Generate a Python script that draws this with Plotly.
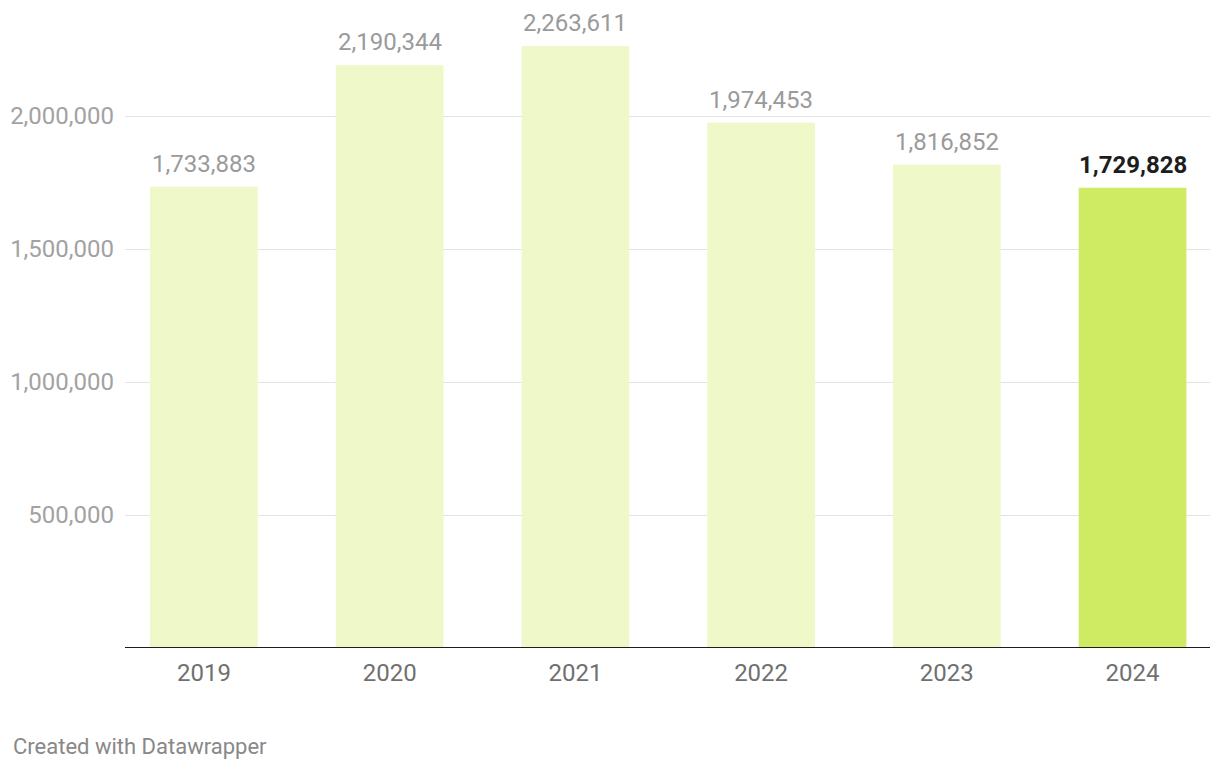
import plotly.graph_objects as go

years = ["2019", "2020", "2021", "2022", "2023", "2024"]
values = [1733883, 2190344, 2263611, 1974453, 1816852, 1729828]
highlight = "2024"
y_ticks = [500000, 1000000, 1500000, 2000000]
y_tick_text = ["500,000", "1,000,000", "1,500,000", "2,000,000"]

light = "#eff8c8"
bright = "#cfeb63"
colors = [bright if y == highlight else light for y in years]

fig = go.Figure()
fig.add_trace(go.Bar(x=years, y=values, marker=dict(color=colors, line=dict(width=0)),
                     hoverinfo="skip"))

for i, (yr, v) in enumerate(zip(years, values)):
    hl = yr == highlight
    fig.add_annotation(
        x=i, y=v, xref="x", yref="y", text=(f"<b>{v:,}</b>" if hl else f"{v:,}"),
        showarrow=False, yanchor="bottom", yshift=7,
        font=dict(family="Roboto", size=24, color="#1d1d1d" if hl else "#9a9a9a"),
    )

fig.add_shape(type="line", xref="paper", yref="y", x0=0, x1=1, y0=0, y1=0,
              line=dict(color="#1d1d1d", width=2), layer="above")

fig.add_annotation(xref="paper", yref="paper", x=-114/1085, y=-98/638,
                   xanchor="left", yanchor="middle", showarrow=False,
                   text="Created with Datawrapper",
                   font=dict(family="Roboto", size=22, color="#888888"))

fig.update_layout(
    width=1220, height=770,
    margin=dict(l=125, r=10, t=10, b=122),
    paper_bgcolor="white", plot_bgcolor="white",
    bargap=0.42, showlegend=False,
    font=dict(family="Roboto"),
    xaxis=dict(type="category", range=[-0.425, 5.417], showgrid=False, showline=False,
               ticks="", tickfont=dict(size=24, color="#707070"), ticklabelstandoff=8),
    yaxis=dict(range=[0, 2398496], tickvals=y_ticks, ticktext=y_tick_text,
               showgrid=True, gridcolor="#e3e3e3", gridwidth=1, zeroline=False,
               showline=False, ticks="", ticklabelstandoff=10,
               tickfont=dict(size=24, color="#a2a2a2")),
)

fig.write_html("out.html", config={"displayModeBar": False},
               post_script="document.body.style.margin='0';document.body.style.overflow='hidden';")
